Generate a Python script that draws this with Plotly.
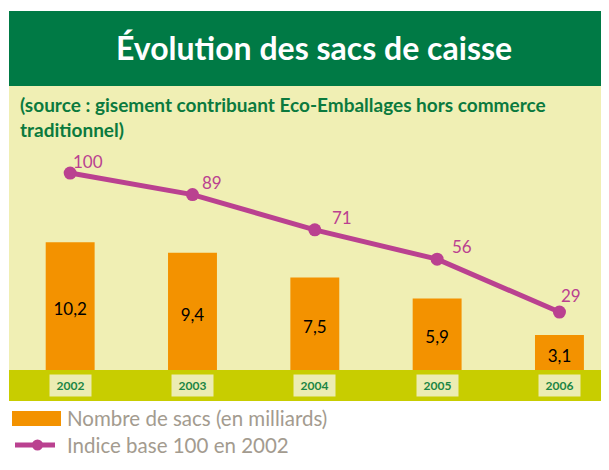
import plotly.graph_objects as go

# ---- data ----
years = [2002, 2003, 2004, 2005, 2006]
nb_sacs = [10.2, 9.4, 7.5, 5.9, 3.1]          # milliards
indice = [100, 89, 71, 56, 29]                 # base 100 en 2002
tick_labels = ["2002", "2003", "2004", "2005", "2006"]
title_text = "Évolution des sacs de caisse"
subtitle_text = "(source : gisement contribuant Eco-Emballages hors commerce<br>traditionnel)"
legend_bar = "Nombre de sacs (en milliards)"
legend_line = "Indice base 100 en 2002"

# ---- style ----
OFF = 8                      # page body margin
W, H = 609 - OFF, 470 - OFF
L, R = 1, 0
T, B = 100 - OFF, 100
PW, PH = W - L - R, H - T - B
GREEN = "#007A45"
YELLOW = "#F0EFB4"
OLIVE = "#C8CD00"
ORANGE = "#F39200"
MAGENTA = "#BA4190"
GREY = "#A39B8F"
FONT = "Lato"
label_shift = [(18, 12), (20, 12), (27, 12), (25, 13), (12, 17)]

def px(x):
    return (x - OFF - L) / PW

def py(y):
    return (H + OFF - B - y) / PH

fig = go.Figure()

bar_text = [f"{v:.1f}".replace(".", ",") for v in nb_sacs]
fig.add_trace(go.Bar(
    x=years, y=nb_sacs, width=0.4, marker=dict(color=ORANGE, line=dict(width=0)),
    text=bar_text, textposition="inside", insidetextanchor="middle", textangle=0,
    textfont=dict(color="black", size=17, family=FONT),
    name=legend_bar, showlegend=False, hoverinfo="skip", yaxis="y",
))
fig.add_trace(go.Scatter(
    x=years, y=indice, mode="lines+markers", yaxis="y2",
    line=dict(color=MAGENTA, width=5), marker=dict(color=MAGENTA, size=13),
    name=legend_line, showlegend=False, cliponaxis=False, hoverinfo="skip",
))

annotations = []
for yr, v, (dx, dy) in zip(years, indice, label_shift):
    annotations.append(dict(x=yr, y=v, xref="x", yref="y2", text=str(v), showarrow=False,
                            xshift=dx, yshift=dy, xanchor="center", yanchor="middle",
                            font=dict(color=MAGENTA, size=17, family=FONT)))
for yr, lab in zip(years, tick_labels):
    annotations.append(dict(x=yr, y=py(385), xref="x", yref="paper", text=lab, showarrow=False,
                            xanchor="center", yanchor="middle",
                            width=39, height=19, bgcolor="#ECECB2",
                            font=dict(color="#1B8544", size=12, family=FONT, weight="bold")))
annotations.append(dict(x=px(314), y=py(48), xref="paper", yref="paper", text=title_text,
                        xanchor="center", yanchor="middle", showarrow=False,
                        font=dict(color="white", size=32, family=FONT, weight="bold")))
annotations.append(dict(x=px(18), y=py(91), xref="paper", yref="paper", text=subtitle_text,
                        xanchor="left", yanchor="top", align="left", showarrow=False,
                        font=dict(color="#0B7A3E", size=19, family=FONT, weight="bold")))
annotations.append(dict(x=px(65), y=py(418), xref="paper", yref="paper", text=legend_bar,
                        xanchor="left", yanchor="middle", showarrow=False,
                        font=dict(color=GREY, size=20.5, family=FONT)))
annotations.append(dict(x=px(65), y=py(445), xref="paper", yref="paper", text=legend_line,
                        xanchor="left", yanchor="middle", showarrow=False,
                        font=dict(color=GREY, size=20.5, family=FONT)))

shapes = [
    dict(type="rect", xref="paper", yref="paper", x0=px(9), x1=px(609), y0=py(370), y1=py(86),
         fillcolor=YELLOW, line=dict(width=0), layer="below"),
    dict(type="rect", xref="paper", yref="paper", x0=px(9), x1=px(609), y0=py(86), y1=py(11),
         fillcolor=GREEN, line=dict(width=0), layer="below"),
    dict(type="rect", xref="paper", yref="paper", x0=px(9), x1=px(609), y0=py(401), y1=py(370),
         fillcolor=OLIVE, line=dict(width=0), layer="below"),
    dict(type="rect", xref="paper", yref="paper", x0=px(12), x1=px(61), y0=py(426), y1=py(411),
         fillcolor=ORANGE, line=dict(width=0)),
    dict(type="line", xref="paper", yref="paper", x0=px(15), x1=px(55), y0=py(445), y1=py(445),
         line=dict(color=MAGENTA, width=5)),
    dict(type="circle", xref="paper", yref="paper", x0=px(32), x1=px(43), y0=py(450.5), y1=py(439.5),
         fillcolor=MAGENTA, line=dict(width=0)),
]

fig.update_layout(
    width=W, height=H, margin=dict(l=L, r=R, t=T, b=B),
    paper_bgcolor="white", plot_bgcolor="rgba(0,0,0,0)",
    xaxis=dict(range=[2001.5, 2006.405], showticklabels=False, showgrid=False, zeroline=False,
               fixedrange=True),
    yaxis=dict(range=[0.414, 21.1], visible=False, showgrid=False, zeroline=False),
    yaxis2=dict(range=[-0.6, 137.3], overlaying="y", visible=False, showgrid=False, zeroline=False),
    annotations=annotations, shapes=shapes, showlegend=False,
)

fig.write_html("out.html")
